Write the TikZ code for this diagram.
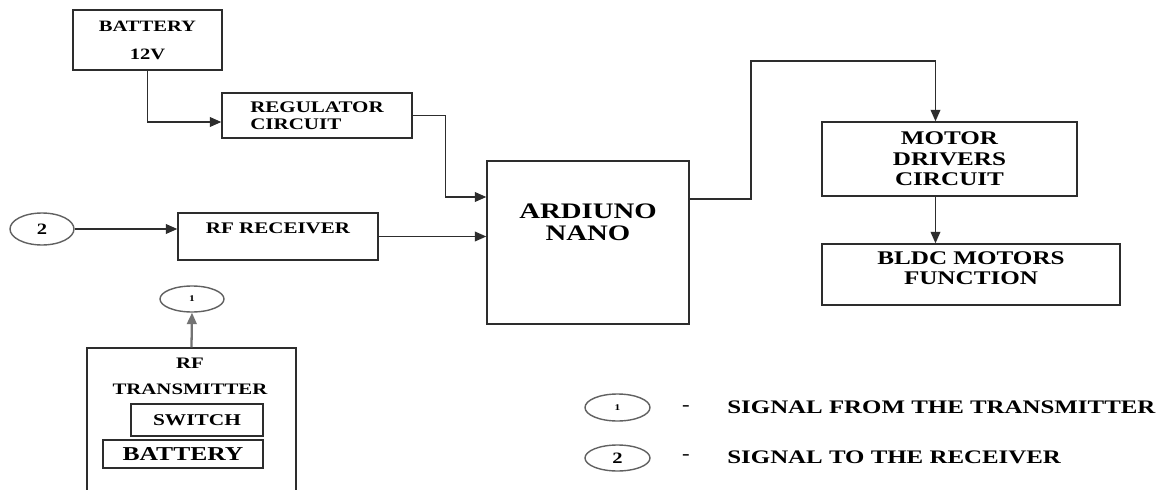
\documentclass[tikz,border=0pt]{standalone}
\usepackage{fontspec}
\setmainfont{Liberation Serif}[FakeStretch=1.3]
\usetikzlibrary{arrows.meta, positioning, shapes.geometric, calc}
\definecolor{edge}{RGB}{45,45,45}

\begin{document}
\begin{tikzpicture}[
    x=0.02cm, y=-0.02cm,
    box/.style={draw=edge,line width=0.8pt,rectangle,inner sep=0pt,font=\bfseries,align=center},
    sig/.style={draw=edge!75,ellipse,line width=0.8pt,inner sep=0pt,minimum width=1.28cm,minimum height=0.56cm,font=\bfseries},
    txt/.style={inner sep=0pt,font=\bfseries,align=center},
    arrow/.style={-{Triangle[length=6.5pt,width=5.5pt]},line width=0.8pt,edge}
  ]
  \useasboundingbox[fill=white] (0,0) rectangle (1164,490);

  % supply side
  \node[box,minimum width=2.98cm,minimum height=1.2cm,font=\bfseries\fontsize{9}{11}\selectfont] (bat) at (147.5,40) {BATTERY\\[5pt]12V};
  \node[box,align=left,minimum width=3.8cm,minimum height=0.9cm,font=\bfseries\fontsize{9.2}{9.6}\selectfont] (reg) at (317,115.5) {REGULATOR\\CIRCUIT};

  % receiver side
  \node[sig,minimum height=0.64cm,font=\bfseries\fontsize{9}{11}\selectfont] (c2) at (42,229) {2};
  \node[box,minimum width=4cm,minimum height=0.94cm,text depth=9pt,font=\bfseries\fontsize{9.2}{11}\selectfont] (rfr) at (278,236.5) {RF RECEIVER};

  % controller
  \node[box,minimum width=4.04cm,minimum height=3.26cm,text depth=23pt,font=\bfseries\fontsize{12.6}{12.8}\selectfont] (ard) at (588,242.5) {ARDIUNO\\NANO};

  % motors
  \node[box,minimum width=5.1cm,minimum height=1.48cm,font=\bfseries\fontsize{11}{11.6}\selectfont] (mot) at (949.5,159) {MOTOR\\DRIVERS\\CIRCUIT};
  \node[box,minimum width=5.96cm,minimum height=1.22cm,text depth=7pt,font=\bfseries\fontsize{11}{11.6}\selectfont] (bldc) at (971,274.5) {BLDC MOTORS\\FUNCTION};

  % transmitter
  \node[sig,minimum height=0.52cm,font=\bfseries\fontsize{5}{6}\selectfont] (c1) at (192,299) {1};
  \node[box,minimum width=4.18cm,minimum height=2.92cm] (tx) at (191.5,421) {};
  \node[txt,font=\bfseries\fontsize{9.1}{11}\selectfont] (txlbl) at (190,376) {RF\\[3.7pt]TRANSMITTER};
  \node[box,minimum width=2.64cm,minimum height=0.64cm,font=\bfseries\fontsize{9.35}{11}\selectfont] (sw) at (197,420) {SWITCH};
  \node[box,minimum width=3.2cm,minimum height=0.56cm,font=\bfseries\fontsize{11.2}{13}\selectfont] (txbat) at (183,454) {BATTERY};

  % legend
  \node[sig,minimum width=1.3cm,minimum height=0.54cm,font=\bfseries\fontsize{5}{6}\selectfont] (leg1) at (617.5,407.5) {1};
  \node[sig,minimum width=1.3cm,minimum height=0.52cm,font=\bfseries\fontsize{9}{11}\selectfont] (leg2) at (617.5,458) {2};
  \node[txt,font=\bfseries\fontsize{10}{12}\selectfont] (dash1) at (686,408) {-};
  \node[txt,font=\bfseries\fontsize{10}{12}\selectfont] (dash2) at (686,457) {-};
  \node[txt,anchor=west,font=\bfseries\fontsize{10.9}{13}\selectfont] (legtxt1) at (727,407) {SIGNAL FROM THE TRANSMITTER};
  \node[txt,anchor=west,font=\bfseries\fontsize{10.9}{13}\selectfont] (legtxt2) at (727,457) {SIGNAL TO THE RECEIVER};

  % connectors
  \draw[arrow] (bat.south) |- ($(reg.west)+(0,6.5)$);
  \draw[arrow] (reg.east) -- ++(33,0) |- ($(ard.west)+(0,-45.5)$);
  \draw[arrow] (c2.east) -- (c2.east -| rfr.west);
  \draw[arrow] (rfr.east) -- (rfr.east -| ard.west);
  \coordinate (bend) at (751,61);
  \coordinate (mdown) at ($(mot.south)+(-14,0)$);
  \draw[arrow] ($(ard.east)+(0,-43.5)$) -| (bend) -| ($(mot.north)+(-14,0)$);
  \draw[arrow] (mdown) -- (mdown |- bldc.north);
  \draw[arrow,line width=1.3pt,black!55] (tx.north) -- (c1.south);
\end{tikzpicture}
\end{document}
